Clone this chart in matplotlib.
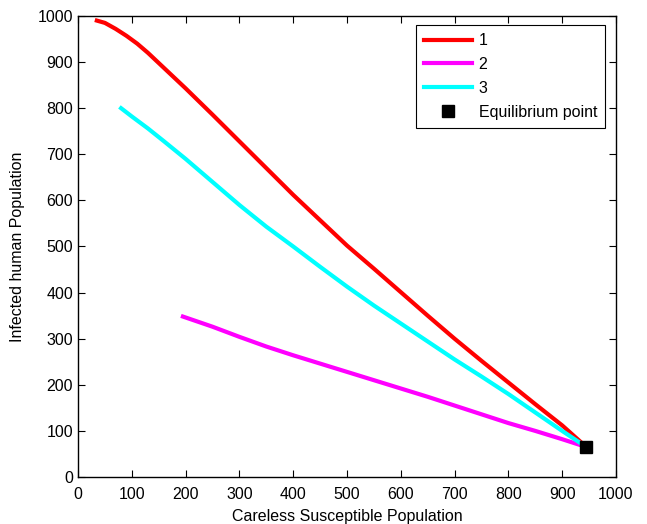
import matplotlib

matplotlib.use("Agg")
import matplotlib.pyplot as plt

plt.rcParams["font.family"] = ["Liberation Sans", "DejaVu Sans"]

# trajectory 1 (red)
x1 = [35, 50, 70, 90, 110, 130, 150, 200, 250, 300, 350, 400, 450, 500, 550, 600,
      650, 700, 750, 800, 850, 900, 945]
y1 = [990, 985, 972, 957, 940, 920, 898, 843, 786, 728, 670, 612, 557, 502, 452, 401,
      350, 300, 252, 205, 158, 112, 65]

# trajectory 2 (magenta)
x2 = [195, 220, 250, 300, 350, 400, 450, 500, 550, 600, 650, 700, 750, 800, 850, 900, 945]
y2 = [348, 338, 326, 304, 283, 264, 246, 228, 210, 192, 174, 155, 136, 117, 100, 82, 65]

# trajectory 3 (cyan)
x3 = [80, 100, 130, 160, 200, 250, 300, 350, 400, 450, 500, 550, 600, 650, 700, 750,
      800, 850, 900, 945]
y3 = [800, 782, 756, 728, 690, 640, 590, 543, 500, 456, 413, 372, 333, 294, 255, 218,
      180, 140, 100, 65]

eq_x = [945]
eq_y = [65]

fig = plt.figure(figsize=(6.47, 5.24), dpi=100)
ax = fig.add_axes([0.1206, 0.0897, 0.8314, 0.8798])

ax.plot(x1, y1, color="#ff0000", lw=3.0, label="1")
ax.plot(x2, y2, color="#ff00ff", lw=3.0, label="2")
ax.plot(x3, y3, color="#00ffff", lw=3.0, label="3")
ax.plot(eq_x, eq_y, "s", color="black", ms=8, ls="none", label="Equilibrium point")

ax.set_xlim(0, 1000)
ax.set_ylim(0, 1000)
ax.set_xticks(range(0, 1001, 100))
ax.set_yticks(range(0, 1001, 100))
ax.tick_params(direction="in", top=True, right=True, labelsize=11.5, length=5, width=0.8)
ax.tick_params(axis="x", pad=7)
for s in ax.spines.values():
    s.set_linewidth(1.0)

ax.set_xlabel("Careless Susceptible Population", fontsize=11.5, labelpad=5)
ax.set_ylabel("Infected human Population", fontsize=11.5, labelpad=9)

leg = ax.legend(loc="upper right", bbox_to_anchor=(0.98, 0.98), borderaxespad=0,
                fontsize=11.5, frameon=True, fancybox=False, edgecolor="black",
                framealpha=1, handlelength=3.0, handletextpad=0.4, borderpad=0.5,
                labelspacing=0.55)
leg.get_frame().set_linewidth(0.8)

fig.savefig("out.png", dpi=100)
